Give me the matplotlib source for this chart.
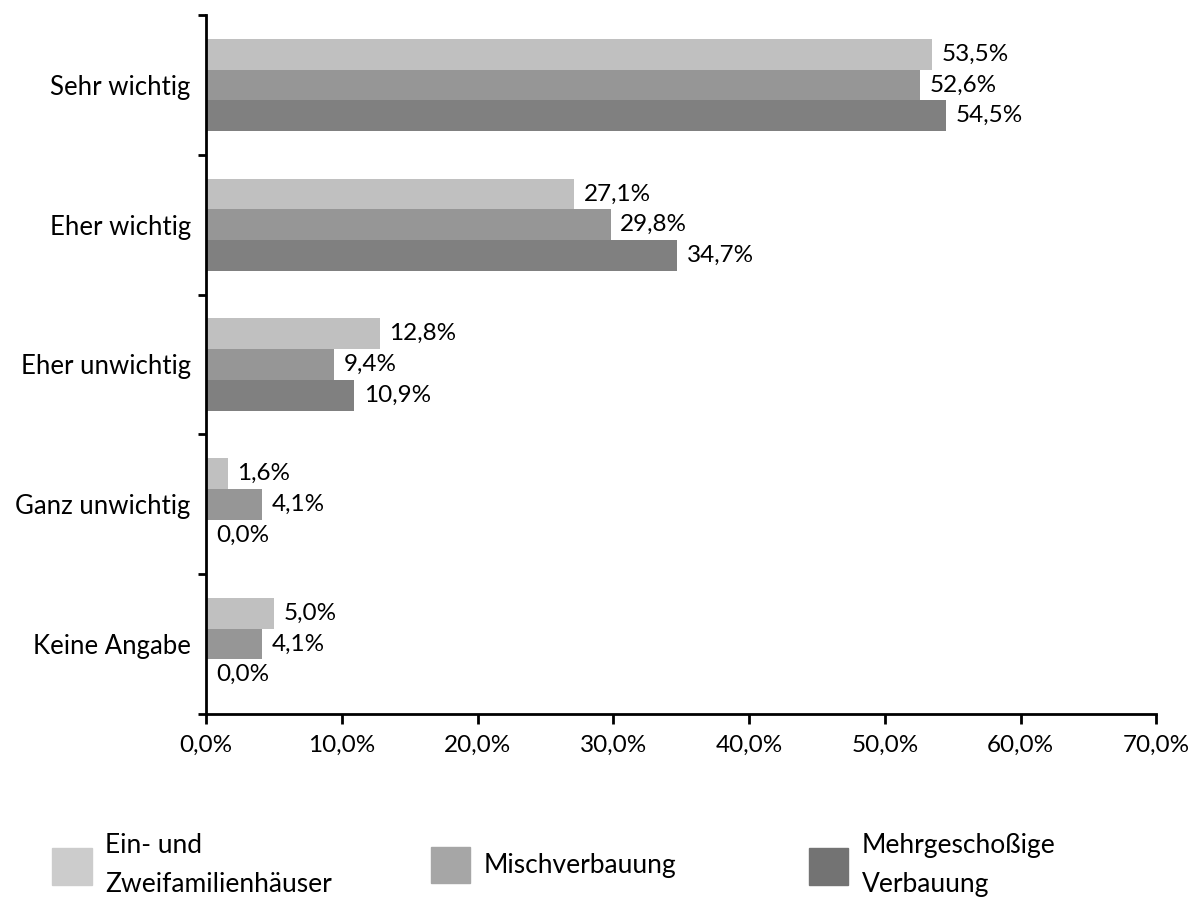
import numpy as np
import matplotlib.pyplot as plt
from matplotlib.patches import Patch
from matplotlib.ticker import FuncFormatter, FixedLocator

plt.rcParams['font.family'] = ['Lato', 'DejaVu Sans']

kategorien = ['Sehr wichtig', 'Eher wichtig', 'Eher unwichtig', 'Ganz unwichtig', 'Keine Angabe']
serien = ['Ein- und\nZweifamilienhäuser', 'Mischverbauung', 'Mehrgeschoßige\nVerbauung']
ein_zwei = [53.5, 27.1, 12.8, 1.6, 5.0]
misch = [52.6, 29.8, 9.4, 4.1, 4.1]
mehrgeschossig = [54.5, 34.7, 10.9, 0.0, 0.0]

farben = ['#c0c0c0', '#969696', '#808080']
legenden_farben = ['#cccccc', '#a6a6a6', '#737373']

fig = plt.figure(figsize=(11.93, 8.99), dpi=100)
ax = fig.add_axes([0.1727, 0.2058, 0.7966, 0.7775])

y = np.arange(len(kategorien))
h = 0.22
for i, (werte, farbe) in enumerate(zip([ein_zwei, misch, mehrgeschossig], farben)):
    balken = ax.barh(y + (i - 1) * h, werte, height=h, color=farbe)
    ax.bar_label(balken, labels=[f'{w:.1f}%'.replace('.', ',') for w in werte],
                 padding=7, fontsize=17.5)

ax.set_xlim(0, 70)
ax.set_ylim(len(kategorien) - 0.5, -0.5)
ax.set_xticks(np.arange(0, 71, 10))
ax.xaxis.set_major_formatter(FuncFormatter(lambda v, p: f'{v:.1f}%'.replace('.', ',')))
ax.tick_params(axis='x', labelsize=17.5, length=7, width=2, pad=8)

# Striche zwischen den Gruppen, Beschriftung in der Mitte
ax.yaxis.set_major_locator(FixedLocator(np.arange(-0.5, len(kategorien), 1)))
ax.yaxis.set_minor_locator(FixedLocator(y))
ax.set_yticklabels([], minor=False)
ax.set_yticklabels(kategorien, minor=True)
ax.tick_params(axis='y', which='major', length=6, width=2)
ax.tick_params(axis='y', which='minor', length=0, labelsize=18.5, pad=11)

for s in ['top', 'right']:
    ax.spines[s].set_visible(False)
for s in ['left', 'bottom']:
    ax.spines[s].set_linewidth(2)

# eine Legende je Reihe, damit die Abstände stimmen
for x0, farbe, name in zip([0.044, 0.361, 0.678], legenden_farben, serien):
    leg = fig.legend([Patch(color=farbe)], [name], loc='center left',
                     bbox_to_anchor=(x0, 0.038), frameon=False, fontsize=19,
                     handlelength=1.5, handleheight=1.75, handletextpad=0.5,
                     borderpad=0, borderaxespad=0)
    for t in leg.get_texts():
        t.set_linespacing(1.7)

fig.savefig('out.png', dpi=100)
